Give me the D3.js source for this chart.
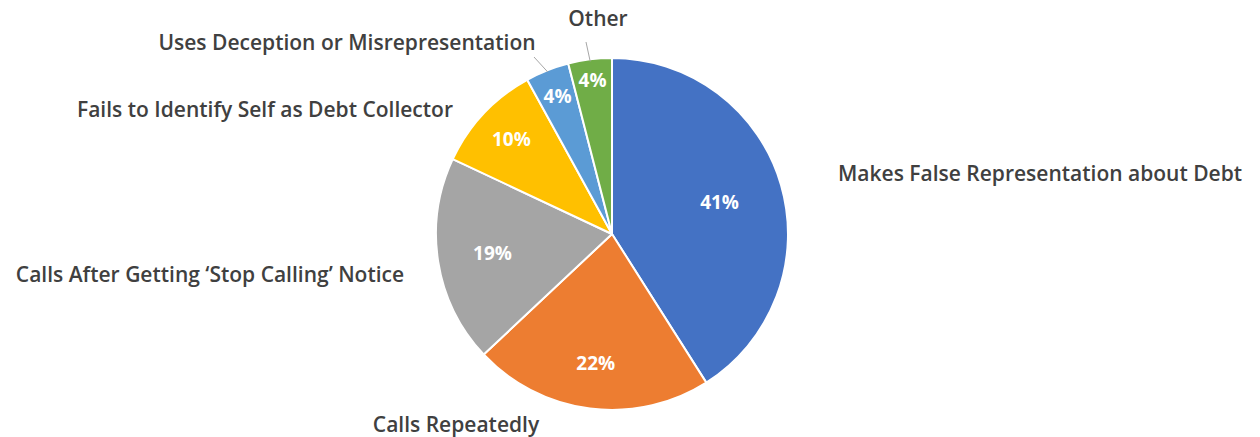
<!DOCTYPE html>
<html>
<head>
<meta charset="utf-8">
<script src="https://cdn.jsdelivr.net/npm/d3@7"></script>
<style>
  body { margin: 0; background: #fff; }
  svg text { font-family: "Open Sans", "Liberation Sans", sans-serif; }
</style>
</head>
<body>
<div id="chart"></div>
<script>
// Data
const categories = [
  "Makes False Representation about Debt",
  "Calls Repeatedly",
  "Calls After Getting \u2018Stop Calling\u2019 Notice",
  "Fails to Identify Self as Debt Collector",
  "Uses Deception or Misrepresentation",
  "Other"
];
const shares = [41, 22, 19, 10, 4, 4];
const colors = ["#4472C4", "#ED7D31", "#A5A5A5", "#FFC000", "#5B9BD5", "#70AD47"];

// Layout
const width = 1260, height = 437;
const cx = 612, cy = 234, radius = 176;
// radius at which each percent label sits
const pctRadius = [112, 130, 121, 138, 148, 155];
// category label anchor points (Excel "best fit" placement)
const labelPos = [
  { x: 838, y: 181, anchor: "start" },
  { x: 456, y: 432, anchor: "middle" },
  { x: 210, y: 282, anchor: "middle" },
  { x: 265, y: 117, anchor: "middle" },
  { x: 347, y: 50, anchor: "middle" },
  { x: 598, y: 26, anchor: "middle" }
];
// leader lines: [from label, slice index]
const leaders = [
  { i: 4, from: [534, 57] },
  { i: 5, from: [586, 42] }
];

const svg = d3.select("#chart")
  .append("svg")
  .attr("width", width)
  .attr("height", height);

const g = svg.append("g")
  .attr("transform", `translate(${cx},${cy})`);

const pie = d3.pie().sort(null).value(d => d);
const arcs = pie(shares);

const arc = d3.arc().innerRadius(0).outerRadius(radius);

g.selectAll("path")
  .data(arcs)
  .join("path")
  .attr("d", arc)
  .attr("fill", (d, i) => colors[i])
  .attr("stroke", "white")
  .attr("stroke-width", 2)
  .attr("stroke-linejoin", "round");

// Percent labels
g.selectAll("text.pct")
  .data(arcs)
  .join("text")
  .attr("class", "pct")
  .attr("transform", (d, i) => {
    const a = (d.startAngle + d.endAngle) / 2;
    const r = pctRadius[i];
    return `translate(${Math.sin(a) * r},${-Math.cos(a) * r})`;
  })
  .attr("text-anchor", "middle")
  .attr("dy", "0.35em")
  .style("font-size", "19px")
  .style("font-weight", "bold")
  .style("fill", "white")
  .text(d => d.value + "%");

// Leader lines
leaders.forEach(l => {
  const d = arcs[l.i];
  const a = (d.startAngle + d.endAngle) / 2;
  const r = radius - 2;
  svg.append("line")
    .attr("x1", l.from[0])
    .attr("y1", l.from[1])
    .attr("x2", cx + Math.sin(a) * r)
    .attr("y2", cy - Math.cos(a) * r)
    .attr("stroke", "#A6A6A6")
    .attr("stroke-width", 1);
});

// Category labels
svg.selectAll("text.cat")
  .data(categories)
  .join("text")
  .attr("class", "cat")
  .attr("x", (d, i) => labelPos[i].x)
  .attr("y", (d, i) => labelPos[i].y)
  .attr("text-anchor", (d, i) => labelPos[i].anchor)
  .style("font-size", "21px")
  .style("font-weight", 600)
  .style("fill", "#404040")
  .text(d => d);
</script>
</body>
</html>
